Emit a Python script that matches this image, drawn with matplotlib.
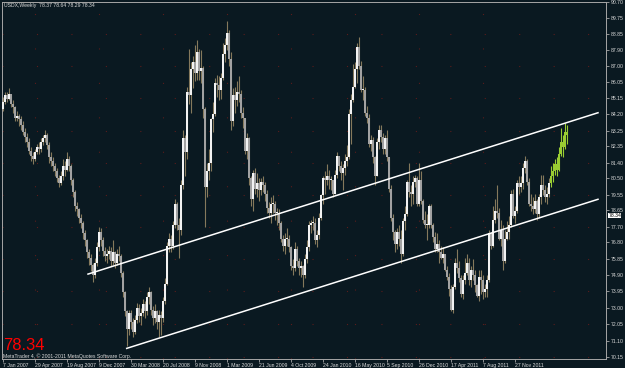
import numpy as np
import matplotlib
matplotlib.use("Agg")
import matplotlib.pyplot as plt
import matplotlib.transforms as mtransforms

# Weekly USDX candles, week 0 = 7 Jan 2007 (open of a week = previous close)
first_open = 84.5

close_2007 = [84.9, 85.3, 85.1, 85.4, 84.8, 84.6, 84.0, 84.1, 83.9, 83.6,
              83.2, 82.9, 82.6, 82.1, 81.8, 81.6, 82.0, 82.3, 82.2, 82.6,
              82.8, 83.0, 82.4, 81.7, 81.5, 81.2, 80.9, 80.5, 80.2, 80.6,
              81.2, 81.0, 81.6, 81.2, 80.4, 79.7, 78.9, 78.7, 78.2, 77.9,
              77.3, 76.9, 76.2, 75.9, 75.5, 74.9, 75.6, 76.5, 77.4, 76.9,
              76.3, 76.0]
high_2007 = [85.2, 85.5, 85.5, 85.7, 85.4, 85.0, 84.7, 84.4, 84.2, 84.1,
             83.8, 83.4, 83.1, 82.8, 82.3, 82.0, 82.2, 82.5, 82.6, 82.8,
             83.0, 83.3, 83.1, 82.6, 82.0, 81.7, 81.4, 81.1, 80.7, 80.9,
             81.6, 81.5, 82.0, 81.8, 81.3, 80.5, 79.8, 79.1, 78.8, 78.4,
             78.0, 77.5, 77.0, 76.4, 76.1, 75.6, 75.9, 76.8, 77.7, 77.6,
             77.1, 76.5]
low_2007 = [84.4, 84.8, 84.9, 85.0, 84.6, 84.3, 83.8, 83.8, 83.5, 83.3,
            83.0, 82.6, 82.3, 81.9, 81.5, 81.3, 81.5, 81.9, 81.9, 82.0,
            82.4, 82.6, 82.2, 81.4, 81.2, 80.9, 80.6, 80.3, 80.0, 80.1,
            80.4, 80.6, 80.9, 80.9, 80.1, 79.4, 78.6, 78.3, 77.9, 77.6,
            77.0, 76.6, 75.9, 75.5, 75.1, 74.5, 74.7, 75.4, 76.3, 76.6,
            76.0, 75.7]

close_2008 = [76.1, 76.3, 75.7, 76.2, 75.6, 76.1, 76.0, 75.0, 73.9, 72.8,
              71.8, 72.7, 72.2, 71.6, 72.3, 73.0, 72.5, 72.7, 73.2, 72.8,
              73.6, 73.9, 72.9, 72.4, 72.8, 72.2, 72.6, 72.4, 73.4, 74.4,
              76.6, 77.0, 76.6, 77.8, 79.0, 77.8, 77.5, 80.1, 82.8, 82.0,
              85.5, 85.3, 86.8, 87.2, 86.6, 87.8, 86.7, 86.9, 84.5, 80.0,
              80.9, 81.4]
high_2008 = [76.4, 76.6, 76.5, 76.9, 76.3, 76.4, 76.6, 76.1, 75.1, 74.0,
             72.9, 72.9, 72.9, 72.4, 72.6, 73.3, 73.2, 73.0, 73.5, 73.4,
             73.9, 74.2, 74.0, 73.1, 73.2, 72.9, 72.9, 72.8, 73.6, 74.7,
             76.8, 77.3, 77.2, 78.0, 79.3, 79.1, 78.2, 80.4, 83.3, 83.0,
             85.8, 88.0, 87.2, 87.6, 88.2, 88.5, 88.0, 87.9, 87.0, 84.6,
             81.4, 82.2]
low_2008 = [75.6, 75.8, 75.4, 75.5, 75.3, 75.5, 75.7, 74.8, 73.6, 72.5,
            70.8, 71.4, 71.8, 71.3, 71.5, 72.1, 72.2, 72.0, 72.5, 72.4,
            72.6, 73.2, 72.6, 72.0, 72.1, 71.8, 71.3, 71.4, 72.2, 73.2,
            74.3, 76.2, 76.2, 76.4, 77.6, 77.5, 75.9, 77.2, 79.9, 80.6,
            81.6, 84.8, 84.3, 85.7, 86.1, 86.2, 86.2, 86.0, 84.0, 77.7,
            79.4, 80.4]

close_2009 = [83.9, 84.2, 86.0, 85.9, 85.6, 86.3, 87.7, 88.2, 88.9, 87.4,
              83.8, 85.3, 85.0, 85.5, 85.4, 84.3, 84.0, 82.1, 82.8, 80.5,
              79.3, 80.8, 79.9, 80.2, 79.8, 80.3, 80.1, 79.6, 78.8, 78.5,
              79.0, 79.0, 78.5, 78.5, 77.9, 77.0, 76.6, 77.0, 77.0, 76.5,
              75.4, 75.3, 76.4, 75.7, 75.3, 75.4, 74.9, 75.8, 76.5, 77.8,
              77.9, 77.9]
high_2009 = [84.0, 84.9, 86.3, 86.5, 86.4, 86.6, 88.3, 88.6, 89.6, 89.1,
             87.8, 85.7, 85.8, 86.1, 86.4, 85.6, 84.6, 84.0, 83.1, 82.9,
             80.6, 81.0, 81.1, 80.8, 80.5, 80.5, 80.6, 80.3, 79.8, 79.1,
             79.4, 79.5, 79.2, 78.8, 78.7, 78.0, 77.2, 77.3, 77.6, 77.2,
             76.6, 75.8, 76.8, 76.6, 75.9, 75.7, 75.5, 76.1, 76.9, 78.0,
             78.1, 78.3]
low_2009 = [80.9, 83.2, 84.1, 85.2, 85.0, 85.1, 86.2, 87.2, 87.9, 87.0,
            83.3, 83.5, 84.3, 84.7, 84.9, 84.0, 83.4, 81.9, 81.6, 80.1,
            78.9, 78.6, 79.6, 79.4, 79.2, 79.5, 79.7, 79.2, 78.5, 78.2,
            77.9, 78.5, 78.1, 77.8, 77.5, 76.8, 76.3, 76.1, 76.6, 76.2,
            75.2, 74.9, 75.1, 75.4, 74.9, 74.8, 74.2, 74.7, 75.6, 76.3,
            77.3, 77.5]

close_2010 = [76.9, 77.2, 78.2, 79.5, 80.5, 80.4, 80.6, 80.4, 80.4, 79.6,
              80.7, 81.8, 81.2, 80.8, 81.1, 81.5, 81.7, 84.2, 85.0, 85.8,
              86.8, 88.1, 87.0, 85.6, 85.6, 84.3, 84.0, 82.5, 82.7, 81.7,
              80.6, 82.6, 83.3, 82.9, 82.2, 82.8, 81.7, 79.9, 78.2, 77.4,
              76.7, 77.4, 77.0, 76.1, 78.0, 78.4, 80.3, 79.7, 79.6, 80.3,
              80.5, 79.0]
high_2010 = [78.2, 77.5, 78.5, 79.6, 80.6, 80.9, 81.3, 81.0, 80.6, 80.4,
             81.0, 82.0, 81.8, 81.5, 81.3, 81.9, 82.4, 84.5, 85.4, 87.1,
             87.2, 88.3, 88.7, 87.3, 86.4, 85.8, 84.7, 84.2, 83.0, 82.9,
             81.8, 82.8, 83.6, 83.6, 83.1, 83.0, 83.3, 81.7, 80.1, 78.4,
             77.5, 77.6, 77.8, 77.5, 78.2, 78.9, 80.4, 81.4, 80.1, 80.6,
             80.7, 80.6]
low_2010 = [76.7, 76.5, 77.0, 78.1, 79.0, 79.6, 80.1, 79.9, 79.8, 79.4,
            79.6, 80.5, 80.9, 80.4, 79.8, 80.7, 81.2, 81.6, 82.5, 84.9,
            85.7, 86.0, 86.8, 85.5, 85.0, 84.1, 83.7, 82.3, 82.1, 81.4,
            80.1, 80.6, 82.2, 82.6, 81.9, 81.9, 81.5, 79.7, 78.0, 76.9,
            76.2, 76.4, 76.6, 75.6, 76.0, 77.5, 78.3, 79.4, 78.9, 79.0,
            80.0, 78.9]

close_2011 = [80.4, 79.2, 78.1, 77.8, 77.8, 78.9, 77.8, 77.1, 76.4, 76.7,
              76.2, 75.9, 76.1, 75.2, 74.8, 74.1, 72.9, 74.2, 75.6, 75.3,
              74.7, 73.8, 74.6, 75.0, 75.6, 74.6, 75.2, 74.9, 74.3, 73.7,
              74.8, 74.6, 73.9, 74.1, 74.6, 77.3, 76.6, 78.1, 78.6, 78.5,
              77.0, 77.5, 75.7, 77.0, 77.4, 77.8, 79.6, 78.3, 78.6, 80.2,
              80.0, 80.2]
high_2011 = [81.4, 80.9, 79.3, 78.6, 78.4, 79.0, 79.0, 77.9, 77.4, 77.3,
             76.9, 76.6, 76.5, 76.1, 75.4, 75.0, 74.3, 74.4, 75.9, 76.4,
             75.7, 74.9, 74.9, 75.9, 76.1, 75.9, 75.4, 75.8, 75.2, 74.4,
             75.2, 75.2, 74.9, 74.4, 74.9, 77.5, 77.4, 78.9, 79.3, 80.1,
             78.8, 78.1, 77.8, 77.5, 78.0, 78.3, 79.8, 79.9, 78.9, 80.4,
             80.6, 80.6]
low_2011 = [78.9, 79.0, 77.9, 77.6, 76.9, 77.6, 77.6, 76.8, 76.2, 76.2,
            75.6, 75.8, 75.6, 75.1, 74.6, 73.7, 72.8, 72.7, 74.1, 75.0,
            74.5, 73.6, 73.5, 74.4, 74.9, 74.3, 74.2, 74.6, 73.9, 73.6,
            73.4, 73.8, 73.5, 73.6, 73.6, 74.5, 76.4, 76.5, 77.9, 78.2,
            76.9, 76.6, 75.2, 75.6, 76.9, 77.0, 77.7, 78.2, 77.9, 78.5,
            79.6, 79.7]

close_2012 = [81.1, 81.5, 80.3, 79.0, 78.9, 78.7, 79.2, 78.4, 79.4, 80.1,
              79.8, 79.4, 79.6, 80.2, 80.6, 80.9, 81.3, 81.0, 81.9, 82.6,
              82.3, 83.2, 83.0]
high_2012 = [81.4, 81.8, 81.6, 80.5, 79.6, 79.4, 79.6, 79.3, 79.6, 80.7,
             80.7, 80.1, 80.0, 80.5, 81.2, 81.4, 81.6, 81.7, 82.3, 83.4,
             83.0, 83.7, 83.6]
low_2012 = [79.9, 80.8, 80.1, 78.9, 78.6, 78.4, 78.5, 78.1, 78.2, 79.0,
            79.5, 79.1, 79.0, 79.4, 80.0, 80.3, 80.7, 80.6, 80.9, 81.8,
            81.7, 82.2, 82.5]

highlight_from = 274  # last candles drawn in green

price_labels = ["90.70", "89.75", "88.85", "87.90", "87.00", "86.05", "85.15",
                "84.20", "83.25", "82.35", "81.40", "80.50", "79.55", "78.65",
                "77.70", "76.80", "75.85", "74.90", "73.95", "73.00", "72.05",
                "71.10", "70.15"]
date_labels = ["7 Jan 2007", "29 Apr 2007", "19 Aug 2007", "9 Dec 2007",
               "30 Mar 2008", "20 Jul 2008", "9 Nov 2008", "1 Mar 2009",
               "21 Jun 2009", "4 Oct 2009", "24 Jan 2010", "16 May 2010",
               "5 Sep 2010", "26 Dec 2010", "17 Apr 2011", "7 Aug 2011",
               "27 Nov 2011"]
date_step = 16  # weeks between date labels

# channel lines (week index, price)
upper_line_weeks = [42.5, 297.5]
upper_line_prices = [74.95, 84.29]
lower_line_weeks = [61.85, 297.5]
lower_line_prices = [70.65, 79.28]

title_text = "USDX,Weekly  78.37 78.64 78.29 78.34"
bid = 78.34
copyright_text = "MetaTrader 4, \u00a9 2001-2011 MetaQuotes Software Corp."

BG = "#0a1921"
FRAME = "#a6a6a6"
TXT = "#d9d9d9"
FONT = "Liberation Sans"
SMALL = 3.7

closes = np.array(close_2007 + close_2008 + close_2009 + close_2010 + close_2011 + close_2012)
highs = np.array(high_2007 + high_2008 + high_2009 + high_2010 + high_2011 + high_2012)
lows = np.array(low_2007 + low_2008 + low_2009 + low_2010 + low_2011 + low_2012)
opens = np.concatenate([[first_open], closes[:-1]])
weeks = np.arange(len(closes))

fig = plt.figure(figsize=(6.25, 3.68), dpi=100, facecolor=BG)
ax = fig.add_axes([2 / 625, 9 / 368, 604 / 625, 357 / 368], facecolor=BG)

# dotted grid, very faint like the terminal
tick_pos = [float(s) for s in price_labels]
date_pos = np.arange(len(date_labels)) * date_step
for p in tick_pos[::2]:
    ax.axhline(p, color="#5a1c1c", lw=0.8, ls=(0, (1, 30)), zorder=0)
for d in date_pos[1::2]:
    ax.axvline(d, color="#5a1c1c", lw=0.8, ls=(0, (1, 30)), zorder=0)

# candles
up = closes >= opens
green = weeks >= highlight_from
wick_colors = np.where(green, "#9acd32", "#85795c")
body_colors = np.where(green, "#9acd32", np.where(up, "#f2f2f2", "#a2a2a2"))
body_bottom = np.minimum(opens, closes)
body_height = np.maximum(np.abs(closes - opens), 0.06)
ax.vlines(weeks, lows, highs, colors=wick_colors, linewidth=0.8, zorder=2)
ax.bar(weeks, body_height, bottom=body_bottom, width=1.0,
       color=body_colors, linewidth=0, zorder=3)

# channel
ax.plot(upper_line_weeks, upper_line_prices, color="white", lw=1.1, zorder=4)
ax.plot(lower_line_weeks, lower_line_prices, color="white", lw=1.1, zorder=4)

ax.set_xlim(-0.5, 301.5)
ax.set_ylim(70.035, 90.671)

for side in ["left", "right", "top", "bottom"]:
    ax.spines[side].set_color(FRAME)
    ax.spines[side].set_linewidth(0.7)

ax.yaxis.tick_right()
ax.set_yticks(tick_pos, price_labels)
ax.set_xticks(date_pos, date_labels)
ax.tick_params(axis="y", direction="out", length=2.2, width=0.6, pad=1,
               colors=FRAME, labelcolor=TXT, labelsize=SMALL)
ax.tick_params(axis="x", direction="out", length=2.2, width=0.6, pad=1,
               colors=FRAME, labelcolor=TXT, labelsize=SMALL)
for lab in ax.get_xticklabels():
    lab.set_horizontalalignment("left")
    lab.set_fontfamily(FONT)
for lab in ax.get_yticklabels():
    lab.set_fontfamily(FONT)

# current price box on the price scale
trans = mtransforms.blended_transform_factory(ax.transAxes, ax.transData)
ax.text(1.004, bid, "%.2f" % bid, transform=trans, ha="left", va="center",
        fontsize=SMALL, family=FONT, color="black",
        bbox=dict(facecolor="white", edgecolor="none", pad=0.1), zorder=6)

fig.text(4 / 625, 1 - 3 / 368, title_text, ha="left", va="top",
         fontsize=SMALL, family=FONT, color=TXT)
fig.text(3 / 625, (368 - 350.5) / 368, "%.2f" % bid, ha="left", va="baseline",
         fontsize=12, family=FONT, color="#ff0000")
fig.text(3 / 625, (368 - 358.3) / 368, copyright_text, ha="left", va="baseline",
         fontsize=SMALL, family=FONT, color=TXT)

fig.savefig("out.png", dpi=100, facecolor=BG)
